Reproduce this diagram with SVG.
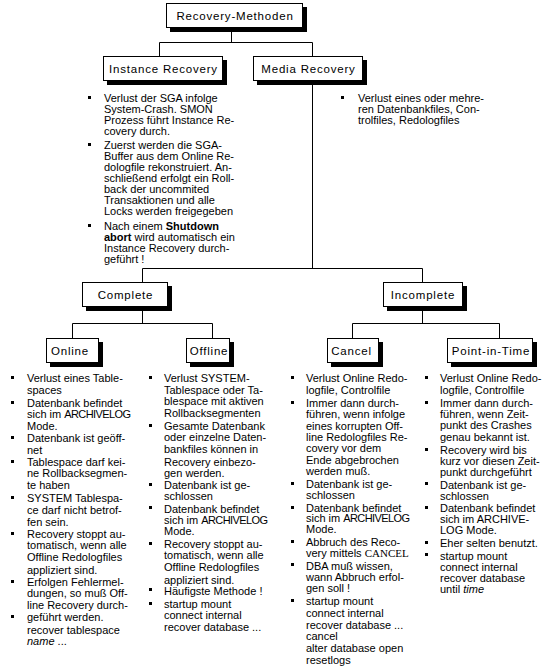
<svg xmlns="http://www.w3.org/2000/svg" width="560" height="669" viewBox="0 0 560 669">
<style>
.t{font-family:"Liberation Sans",Arial,sans-serif;font-size:11px;fill:#000}
.lbl{font-family:"Liberation Sans",Arial,sans-serif;font-size:11.5px;letter-spacing:0.8px;text-anchor:middle;fill:#000}
.box{fill:#fff;stroke:#000;stroke-width:1}
.sh{fill:#000}
.b{fill:#000}
.con{stroke:#000;stroke-width:1;fill:none}
.bold{font-weight:bold}
.it{font-style:italic}
.ser{font-family:"Liberation Serif","Times New Roman",serif;font-size:11px}
.arch{letter-spacing:-0.6px}
</style>
<rect width="560" height="669" fill="#fff"/>
<g id="connectors" class="con">
<path d="M231.5 27.5V42.5M159.5 56V42.5H312.5V56M312.5 80V268.5M142.5 282V268.5H422.5V282M142.5 306V323.5M72.5 338V323.5H212.5V338M422.5 306V323.5M352.5 338V323.5H499.5V338"/>
</g>
<g id="n-recovery-methoden">
<rect class="sh" x="170" y="7" width="137" height="25"/>
<rect class="box" x="166.5" y="3.5" width="136" height="24"/>
<text class="lbl" x="235" y="20">Recovery-Methoden</text>
</g>
<g id="n-instance">
<rect class="sh" x="107" y="60" width="120" height="25"/>
<rect class="box" x="103.5" y="56.5" width="119" height="24"/>
<text class="lbl" x="163.5" y="72.5">Instance Recovery</text>
</g>
<g id="n-media">
<rect class="sh" x="257" y="60" width="110" height="25"/>
<rect class="box" x="253.5" y="56.5" width="109" height="24"/>
<text class="lbl" x="308.5" y="72.5">Media Recovery</text>
</g>
<g id="n-complete">
<rect class="sh" x="86" y="286" width="86" height="25"/>
<rect class="box" x="82.5" y="282.5" width="85" height="24"/>
<text class="lbl" x="125.5" y="298.5">Complete</text>
</g>
<g id="n-incomplete">
<rect class="sh" x="387" y="286" width="80" height="25"/>
<rect class="box" x="383.5" y="282.5" width="79" height="24"/>
<text class="lbl" x="423" y="298.5">Incomplete</text>
</g>
<g id="n-online">
<rect class="sh" x="50" y="342" width="53" height="25"/>
<rect class="box" x="46.5" y="338.5" width="52" height="24"/>
<text class="lbl" x="70" y="354.5">Online</text>
</g>
<g id="n-offline">
<rect class="sh" x="190" y="342" width="44" height="25"/>
<rect class="box" x="186.5" y="338.5" width="43" height="24"/>
<text class="lbl" x="209" y="354.5">Offline</text>
</g>
<g id="n-cancel">
<rect class="sh" x="331" y="342" width="52" height="25"/>
<rect class="box" x="327.5" y="338.5" width="51" height="24"/>
<text class="lbl" x="351.5" y="354.5">Cancel</text>
</g>
<g id="n-pit">
<rect class="sh" x="451" y="342" width="86" height="25"/>
<rect class="box" x="447.5" y="338.5" width="85" height="24"/>
<text class="lbl" x="491" y="354.5">Point-in-Time</text>
</g>
<g id="txt-instance">
<rect class="b" x="88" y="96" width="3" height="3"/>
<rect class="b" x="88" y="143" width="3" height="3"/>
<rect class="b" x="88" y="224" width="3" height="3"/>
<text class="t" x="104">
<tspan x="104" y="102">Verlust der SGA infolge</tspan>
<tspan x="104" y="113">System-Crash. SMON</tspan>
<tspan x="104" y="124">Prozess führt Instance Re-</tspan>
<tspan x="104" y="134.5">covery durch.</tspan>
<tspan x="104" y="149">Zuerst werden die SGA-</tspan>
<tspan x="104" y="160">Buffer aus dem Online Re-</tspan>
<tspan x="104" y="171">dologfile rekonstruiert. An-</tspan>
<tspan x="104" y="182">schließend erfolgt ein Roll-</tspan>
<tspan x="104" y="193">back der uncommited</tspan>
<tspan x="104" y="204">Transaktionen und alle</tspan>
<tspan x="104" y="215">Locks werden freigegeben</tspan>
<tspan x="104" y="230">Nach einem <tspan class="bold">Shutdown</tspan></tspan>
<tspan x="104" y="241"><tspan class="bold">abort</tspan> wird automatisch ein</tspan>
<tspan x="104" y="252">Instance Recovery durch-</tspan>
<tspan x="104" y="262.5">geführt !</tspan>
</text>
</g>
<g id="txt-media">
<rect class="b" x="341" y="96" width="3" height="3"/>
<text class="t">
<tspan x="358" y="102">Verlust eines oder mehre-</tspan>
<tspan x="358" y="113">ren Datenbankfiles, Con-</tspan>
<tspan x="358" y="124">trolfiles, Redologfiles</tspan>
</text>
</g>
<g id="txt-online">
<rect class="b" x="11" y="376" width="3" height="3"/>
<rect class="b" x="11" y="401" width="3" height="3"/>
<rect class="b" x="11" y="436" width="3" height="3"/>
<rect class="b" x="11" y="460" width="3" height="3"/>
<rect class="b" x="11" y="496" width="3" height="3"/>
<rect class="b" x="11" y="532" width="3" height="3"/>
<rect class="b" x="11" y="580" width="3" height="3"/>
<rect class="b" x="11" y="615" width="3" height="3"/>
<text class="t">
<tspan x="27" y="382">Verlust eines Table-</tspan>
<tspan x="27" y="393.5">spaces</tspan>
<tspan x="27" y="407">Datenbank befindet</tspan>
<tspan x="27" y="418">sich im <tspan class="arch">ARCHIVELOG</tspan></tspan>
<tspan x="27" y="429.5">Mode.</tspan>
<tspan x="27" y="442">Datenbank ist geöff-</tspan>
<tspan x="27" y="453.5">net</tspan>
<tspan x="27" y="466">Tablespace darf kei-</tspan>
<tspan x="27" y="476.5">ne Rollbacksegmen-</tspan>
<tspan x="27" y="488.5">te haben</tspan>
<tspan x="27" y="502">SYSTEM Tablespa-</tspan>
<tspan x="27" y="513.5">ce darf nicht betrof-</tspan>
<tspan x="27" y="526">fen sein.</tspan>
<tspan x="27" y="538">Recovery stoppt au-</tspan>
<tspan x="27" y="548.5">tomatisch, wenn alle</tspan>
<tspan x="27" y="561">Offline Redologfiles</tspan>
<tspan x="27" y="573.5">appliziert sind.</tspan>
<tspan x="27" y="586">Erfolgen Fehlermel-</tspan>
<tspan x="27" y="597">dungen, so muß Off-</tspan>
<tspan x="27" y="608.5">line Recovery durch-</tspan>
<tspan x="27" y="621">geführt werden.</tspan>
<tspan x="27" y="633.5">recover tablespace</tspan>
<tspan x="27" y="645"><tspan class="it">name</tspan> ...</tspan>
</text>
</g>
<g id="txt-offline">
<rect class="b" x="149" y="376" width="3" height="3"/>
<rect class="b" x="149" y="424" width="3" height="3"/>
<rect class="b" x="149" y="483" width="3" height="3"/>
<rect class="b" x="149" y="506" width="3" height="3"/>
<rect class="b" x="149" y="542" width="3" height="3"/>
<rect class="b" x="149" y="588" width="3" height="3"/>
<rect class="b" x="149" y="602" width="3" height="3"/>
<text class="t">
<tspan x="164" y="382">Verlust SYSTEM-</tspan>
<tspan x="164" y="393.5">Tablespace oder Ta-</tspan>
<tspan x="164" y="405">blespace mit aktiven</tspan>
<tspan x="164" y="416.5">Rollbacksegmenten</tspan>
<tspan x="164" y="429.5">Gesamte Datenbank</tspan>
<tspan x="164" y="440.5">oder einzelne Daten-</tspan>
<tspan x="164" y="452.5">bankfiles können in</tspan>
<tspan x="164" y="465.5">Recovery einbezo-</tspan>
<tspan x="164" y="476.5">gen werden.</tspan>
<tspan x="164" y="489">Datenbank ist ge-</tspan>
<tspan x="164" y="500">schlossen</tspan>
<tspan x="164" y="512.5">Datenbank befindet</tspan>
<tspan x="164" y="523.5">sich im <tspan class="arch">ARCHIVELOG</tspan></tspan>
<tspan x="164" y="535">Mode.</tspan>
<tspan x="164" y="547.5">Recovery stoppt au-</tspan>
<tspan x="164" y="559">tomatisch, wenn alle</tspan>
<tspan x="164" y="571">Offline Redologfiles</tspan>
<tspan x="164" y="583.5">appliziert sind.</tspan>
<tspan x="164" y="594.5">Häufigste Methode !</tspan>
<tspan x="164" y="607.5">startup mount</tspan>
<tspan x="164" y="619">connect internal</tspan>
<tspan x="164" y="630.5">recover database ...</tspan>
</text>
</g>
<g id="txt-cancel">
<rect class="b" x="291" y="376" width="3" height="3"/>
<rect class="b" x="291" y="401" width="3" height="3"/>
<rect class="b" x="291" y="482" width="3" height="3"/>
<rect class="b" x="291" y="506" width="3" height="3"/>
<rect class="b" x="291" y="540" width="3" height="3"/>
<rect class="b" x="291" y="563" width="3" height="3"/>
<rect class="b" x="291" y="599" width="3" height="3"/>
<text class="t">
<tspan x="306" y="382">Verlust Online Redo-</tspan>
<tspan x="306" y="393.5">logfile, Controlfile</tspan>
<tspan x="306" y="407">Immer dann durch-</tspan>
<tspan x="306" y="418">führen, wenn infolge</tspan>
<tspan x="306" y="429.5">eines korrupten Off-</tspan>
<tspan x="306" y="441">line Redologfiles Re-</tspan>
<tspan x="306" y="451.5">covery vor dem</tspan>
<tspan x="306" y="464">Ende abgebrochen</tspan>
<tspan x="306" y="475">werden muß.</tspan>
<tspan x="306" y="487.5">Datenbank ist ge-</tspan>
<tspan x="306" y="499">schlossen</tspan>
<tspan x="306" y="511.5">Datenbank befindet</tspan>
<tspan x="306" y="522">sich im <tspan class="arch">ARCHIVELOG</tspan></tspan>
<tspan x="306" y="533">Mode.</tspan>
<tspan x="306" y="545.5">Abbruch des Reco-</tspan>
<tspan x="306" y="557">very mittels <tspan class="ser">CANCEL</tspan></tspan>
<tspan x="306" y="569.5">DBA muß wissen,</tspan>
<tspan x="306" y="580.5">wann Abbruch erfol-</tspan>
<tspan x="306" y="592">gen soll !</tspan>
<tspan x="306" y="604.5">startup mount</tspan>
<tspan x="306" y="617">connect internal</tspan>
<tspan x="306" y="628.5">recover database ...</tspan>
<tspan x="306" y="640">cancel</tspan>
<tspan x="306" y="652">alter database open</tspan>
<tspan x="306" y="663.5">resetlogs</tspan>
</text>
</g>
<g id="txt-pit">
<rect class="b" x="425" y="376" width="3" height="3"/>
<rect class="b" x="425" y="401" width="3" height="3"/>
<rect class="b" x="425" y="448" width="3" height="3"/>
<rect class="b" x="425" y="482" width="3" height="3"/>
<rect class="b" x="425" y="506" width="3" height="3"/>
<rect class="b" x="425" y="541" width="3" height="3"/>
<rect class="b" x="425" y="553" width="3" height="3"/>
<text class="t">
<tspan x="440" y="382">Verlust Online Redo-</tspan>
<tspan x="440" y="393.5">logfile, Controlfile</tspan>
<tspan x="440" y="407">Immer dann durch-</tspan>
<tspan x="440" y="418">führen, wenn Zeit-</tspan>
<tspan x="440" y="429">punkt des Crashes</tspan>
<tspan x="440" y="440.5">genau bekannt ist.</tspan>
<tspan x="440" y="453.5">Recovery wird bis</tspan>
<tspan x="440" y="465">kurz vor diesen Zeit-</tspan>
<tspan x="440" y="476">punkt durchgeführt</tspan>
<tspan x="440" y="488.5">Datenbank ist ge-</tspan>
<tspan x="440" y="499.5">schlossen</tspan>
<tspan x="440" y="512">Datenbank befindet</tspan>
<tspan x="440" y="523">sich im ARCHIVE-</tspan>
<tspan x="440" y="534">LOG Mode.</tspan>
<tspan x="440" y="547">Eher selten benutzt.</tspan>
<tspan x="440" y="559.5">startup mount</tspan>
<tspan x="440" y="571">connect internal</tspan>
<tspan x="440" y="582">recover database</tspan>
<tspan x="440" y="593">until <tspan class="it">time</tspan></tspan>
</text>
</g>
</svg>
